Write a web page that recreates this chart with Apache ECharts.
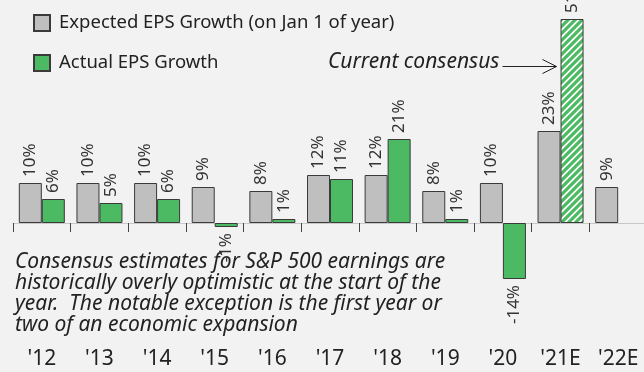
<!DOCTYPE html>
<html>
<head>
<meta charset="utf-8">
<script src="https://cdn.jsdelivr.net/npm/echarts@6/dist/echarts.min.js"></script>
<style>
  html, body { margin: 0; padding: 0; background: #f2f2f2; }
  #chart { width: 644px; height: 372px; }
</style>
</head>
<body>
<div id="chart"></div>
<script>
// S&P 500 EPS growth: expected at the start of each year vs. actual outcome
const years = ["'12", "'13", "'14", "'15", "'16", "'17", "'18", "'19", "'20", "'21E", "'22E"];
const expectedGrowth = [10, 10, 10, 9, 8, 12, 12, 8, 10, 23, 9];
const actualGrowth = [6, 5, 6, -1, 1, 11, 21, 1, -14, 51, null];
const consensusIndex = 9; // '21E actual is still an estimate

const FONT = "'Noto Sans', 'Open Sans', sans-serif";
const GRAY = '#bfbfbf';
const GREEN = '#4cba62';
const EDGE = '#3a3a3a';

// diagonal hatch used for the still-estimated year
function hatchPattern() {
  const s = 7;
  const c = document.createElement('canvas');
  c.width = s; c.height = s;
  const ctx = c.getContext('2d');
  ctx.fillStyle = '#ffffff';
  ctx.fillRect(0, 0, s, s);
  ctx.strokeStyle = GREEN;
  ctx.lineWidth = 3.2;
  ctx.beginPath();
  ctx.moveTo(-2, 2); ctx.lineTo(2, -2);
  ctx.moveTo(0, s); ctx.lineTo(s, 0);
  ctx.moveTo(s - 2, s + 2); ctx.lineTo(s + 2, s - 2);
  ctx.stroke();
  return { image: c, repeat: 'repeat' };
}

function valueLabel(v) {
  const neg = v < 0;
  return {
    show: true,
    rotate: 90,
    position: neg ? 'bottom' : 'top',
    align: neg ? 'right' : 'left',
    verticalAlign: 'middle',
    distance: 6,
    fontFamily: FONT,
    fontSize: 17,
    color: '#333',
    formatter: v + '%'
  };
}

const expectedData = expectedGrowth.map(v => ({ value: v, label: valueLabel(v) }));
const actualData = actualGrowth.map((v, i) => {
  if (v === null) return { value: null };
  const item = { value: v, label: valueLabel(v) };
  if (i === consensusIndex) item.itemStyle = { color: hatchPattern() };
  return item;
});

const chart = echarts.init(document.getElementById('chart'));
chart.setOption({
  backgroundColor: '#f2f2f2',
  animation: false,
  legend: {
    orient: 'vertical',
    left: 28,
    top: 5,
    itemWidth: 16,
    itemHeight: 16,
    itemGap: 14,
    icon: 'rect',
    textStyle: {
      fontFamily: FONT,
      fontSize: 18.5,
      color: '#222',
      lineHeight: 26,
      padding: [0, 0, 0, 4]
    },
    data: ['Expected EPS Growth (on Jan 1 of year)', 'Actual EPS Growth']
  },
  grid: { left: 13, top: 3, width: 634, height: 320, outerBoundsMode: 'none', containLabel: false },
  xAxis: [
    {
      // zero line with year separators
      type: 'category',
      data: years,
      boundaryGap: true,
      axisLine: { show: true, onZero: true, lineStyle: { color: '#c8c8c8', width: 1 } },
      axisTick: { show: true, length: 9, lineStyle: { color: '#444' } },
      axisLabel: { show: false }
    },
    {
      // year labels along the bottom
      type: 'category',
      data: years,
      position: 'bottom',
      boundaryGap: true,
      axisLine: { show: false, onZero: false },
      axisTick: { show: false },
      axisLabel: {
        margin: 26,
        fontFamily: FONT,
        fontSize: 21,
        color: '#222',
        interval: 0
      }
    }
  ],
  yAxis: {
    type: 'value',
    min: -25,
    max: 55,
    show: false,
    splitLine: { show: false }
  },
  series: [
    {
      name: 'Expected EPS Growth (on Jan 1 of year)',
      type: 'bar',
      xAxisIndex: 0,
      data: expectedData,
      barWidth: 23,
      barGap: '0%',
      itemStyle: { color: GRAY, borderColor: EDGE, borderWidth: 1 }
    },
    {
      name: 'Actual EPS Growth',
      type: 'bar',
      xAxisIndex: 0,
      data: actualData,
      barWidth: 23,
      barGap: '0%',
      itemStyle: { color: GREEN, borderColor: EDGE, borderWidth: 1 }
    }
  ],
  graphic: [
    {
      type: 'text',
      left: 328,
      top: 52,
      style: {
        text: 'Current consensus',
        font: 'italic 21px ' + FONT,
        fill: '#222'
      }
    },
    {
      type: 'group',
      left: 500,
      top: 57,
      children: [
        { type: 'line', shape: { x1: 0, y1: 7, x2: 54, y2: 7 }, style: { stroke: '#222', lineWidth: 1 } },
        { type: 'polyline', shape: { points: [[40, 0], [54, 7], [40, 14]] }, style: { stroke: '#222', fill: null, lineWidth: 1 } }
      ]
    },
    {
      type: 'text',
      left: 15,
      top: 252,
      style: {
        text: 'Consensus estimates for S&P 500 earnings are\nhistorically overly optimistic at the start of the\nyear.  The notable exception is the first year or\ntwo of an economic expansion',
        font: 'italic 21px ' + FONT,
        lineHeight: 21,
        fill: '#222'
      }
    }
  ]
});
</script>
</body>
</html>
